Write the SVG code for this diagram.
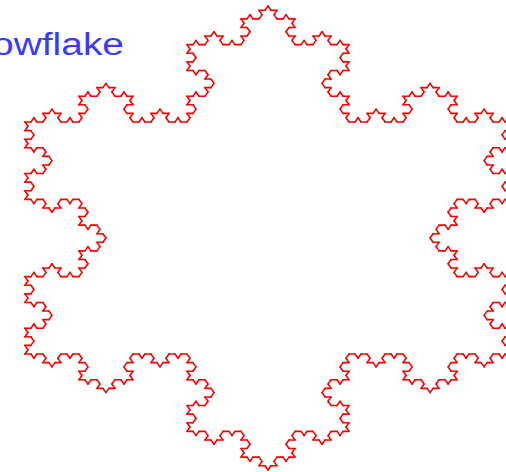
<svg xmlns="http://www.w3.org/2000/svg" xmlns:xlink="http://www.w3.org/1999/xlink" width="506" height="472" viewBox="0 0 506 472">
<style>
.t{font-family:"Liberation Sans",Arial,sans-serif;font-size:31px;fill:#3a3aff}
</style>
<defs>
<path id="k0" d="M0 0H1" fill="none" stroke="#ff0000" stroke-width="1.6" stroke-linecap="round" vector-effect="non-scaling-stroke"/>
<g id="k1">
<use href="#k0" xlink:href="#k0" transform="scale(0.33333333)"/>
<use href="#k0" xlink:href="#k0" transform="translate(0.33333333,0) rotate(-60) scale(0.33333333)"/>
<use href="#k0" xlink:href="#k0" transform="translate(0.5,-0.28867513) rotate(60) scale(0.33333333)"/>
<use href="#k0" xlink:href="#k0" transform="translate(0.66666667,0) scale(0.33333333)"/>
</g>
<g id="k2">
<use href="#k1" xlink:href="#k1" transform="scale(0.33333333)"/>
<use href="#k1" xlink:href="#k1" transform="translate(0.33333333,0) rotate(-60) scale(0.33333333)"/>
<use href="#k1" xlink:href="#k1" transform="translate(0.5,-0.28867513) rotate(60) scale(0.33333333)"/>
<use href="#k1" xlink:href="#k1" transform="translate(0.66666667,0) scale(0.33333333)"/>
</g>
<g id="k3">
<use href="#k2" xlink:href="#k2" transform="scale(0.33333333)"/>
<use href="#k2" xlink:href="#k2" transform="translate(0.33333333,0) rotate(-60) scale(0.33333333)"/>
<use href="#k2" xlink:href="#k2" transform="translate(0.5,-0.28867513) rotate(60) scale(0.33333333)"/>
<use href="#k2" xlink:href="#k2" transform="translate(0.66666667,0) scale(0.33333333)"/>
</g>
<g id="k4">
<use href="#k3" xlink:href="#k3" transform="scale(0.33333333)"/>
<use href="#k3" xlink:href="#k3" transform="translate(0.33333333,0) rotate(-60) scale(0.33333333)"/>
<use href="#k3" xlink:href="#k3" transform="translate(0.5,-0.28867513) rotate(60) scale(0.33333333)"/>
<use href="#k3" xlink:href="#k3" transform="translate(0.66666667,0) scale(0.33333333)"/>
</g>
</defs>
<rect width="506" height="472" fill="#ffffff"/>
<text id="title" class="t" x="-8" y="55" textLength="132" lengthAdjust="spacingAndGlyphs">owflake</text>
<g id="snowflake" transform="translate(268,238) scale(1.21,1)">
<use href="#k4" xlink:href="#k4" transform="translate(0,-232) rotate(60) scale(401.836)"/>
<use href="#k4" xlink:href="#k4" transform="translate(200.918,116) rotate(180) scale(401.836)"/>
<use href="#k4" xlink:href="#k4" transform="translate(-200.918,116) rotate(-60) scale(401.836)"/>
</g>
</svg>
